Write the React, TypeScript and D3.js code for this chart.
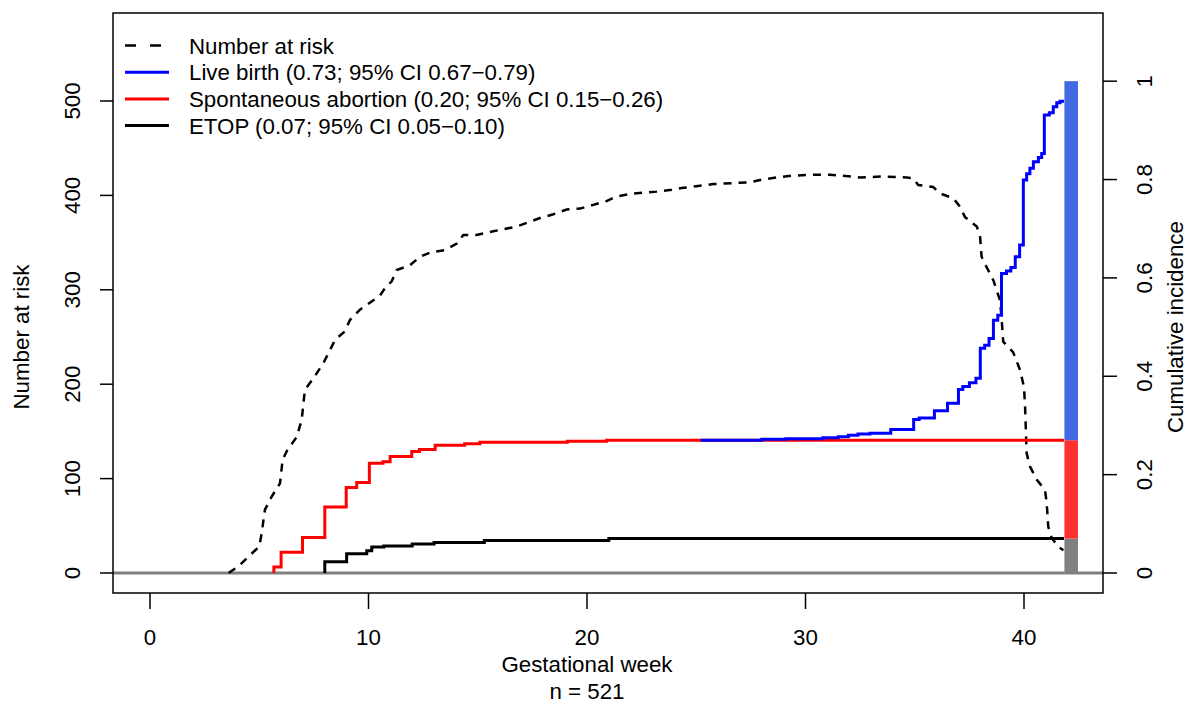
import React from 'react';
import * as d3 from 'd3';

// values
const riskWeeks = [3.6, 3.66, 4.04, 4.58, 5.0, 5.11, 5.26, 5.57, 5.95, 6.07, 6.28, 6.71, 6.94, 7.09, 7.47, 7.93, 8.47, 8.92, 9.15, 9.61, 9.92, 10.53, 10.76, 11.06, 11.29, 11.9, 12.36, 12.89, 13.5, 14.04, 14.34, 14.95, 15.71, 16.78, 17.85, 18.46, 19.07, 19.68, 20.29, 20.9, 21.36, 22.12, 23.19, 23.88, 24.41, 25.09, 25.78, 26.7, 27.46, 28.07, 28.68, 29.44, 30.51, 31.12, 31.58, 32.49, 33.56, 34.63, 34.93, 35.16, 35.84, 36.16, 36.77, 37.07, 37.3, 37.84, 37.99, 38.06, 38.29, 38.6, 38.9, 38.98, 39.05, 39.5, 39.82, 40.0, 40.05, 40.09, 40.12, 40.27, 40.58, 40.96, 41.04, 41.11, 41.27, 41.57, 41.8];
const riskCounts = [0, 1, 7, 19, 28, 42, 67, 81, 95, 120, 130, 144, 162, 194, 206, 222, 247, 256, 268, 279, 284, 294, 302, 309, 321, 326, 335, 340, 342, 349, 358, 358, 362, 367, 376, 380, 385, 386, 390, 394, 399, 402, 404, 406, 408, 410, 412, 413, 414, 417, 419, 421, 422, 422, 421, 419, 420, 419, 418, 411, 409, 402, 397, 388, 377, 367, 356, 335, 324, 310, 289, 268, 245, 234, 215, 197, 176, 148, 127, 113, 99, 88, 74, 49, 37, 28, 24];

// cumulative incidence, stacked: ETOP, + spontaneous abortion, + live birth
const lbWeeks = [25.2, 28.0, 29.1, 30.8, 31.5, 31.96, 32.4, 32.95, 33.9, 34.95, 35.2, 35.9, 36.5, 37.0, 37.2, 37.5, 37.8, 38.0, 38.2, 38.4, 38.6, 38.8, 38.97, 39.2, 39.4, 39.6, 39.8, 39.97, 40.12, 40.27, 40.43, 40.66, 40.81, 40.93, 41.16, 41.34, 41.5, 41.65, 41.83];
const lbCum = [0.27, 0.272, 0.273, 0.275, 0.277, 0.28, 0.2825, 0.284, 0.292, 0.312, 0.315, 0.33, 0.345, 0.373, 0.379, 0.387, 0.396, 0.457, 0.463, 0.477, 0.514, 0.524, 0.609, 0.614, 0.621, 0.643, 0.667, 0.799, 0.812, 0.823, 0.836, 0.845, 0.853, 0.931, 0.936, 0.948, 0.956, 0.959, 0.959];

const saWeeks = [5.67, 5.67, 6.0, 6.98, 8.0, 8.98, 9.46, 10.04, 10.66, 10.99, 11.98, 12.33, 13.05, 14.4, 15.1, 19.1, 20.9, 41.83];
const saCum = [0, 0.012, 0.042, 0.072, 0.134, 0.174, 0.184, 0.223, 0.226, 0.237, 0.247, 0.251, 0.26, 0.263, 0.266, 0.268, 0.27, 0.27];

const etopWeeks = [8.0, 8.0, 9.0, 9.92, 10.15, 10.7, 12.0, 13.0, 15.3, 21.0, 41.83];
const etopCum = [0, 0.023, 0.039, 0.045, 0.053, 0.055, 0.059, 0.062, 0.066, 0.07, 0.07];

// final proportions shown in the stacked bar (bottom to top)
const barNames = ['ETOP', 'Spontaneous abortion', 'Live birth'];
const barShares = [0.07, 0.2, 0.73];
const barColors = ['#808080', '#FF3030', '#4169E1'];

const xTicks = [0, 10, 20, 30, 40];
const leftTicks = [0, 100, 200, 300, 400, 500];
const rightTicks = [0, 0.2, 0.4, 0.6, 0.8, 1];
const rightTickLabels = ['0', '0.2', '0.4', '0.6', '0.8', '1'];

const legendLabels = [
  'Number at risk',
  'Live birth (0.73; 95% CI 0.67\u22120.79)',
  'Spontaneous abortion (0.20; 95% CI 0.15\u22120.26)',
  'ETOP (0.07; 95% CI 0.05\u22120.10)',
];
const legendColors = ['#000000', '#0000FF', '#FF0000', '#000000'];

const N_TOTAL = 521;

const W = 1202;
const H = 705;
const box = { left: 113, right: 1103, top: 13, bottom: 593 };
const FONT = '"Liberation Sans", Arial, Helvetica, sans-serif';
const FS = 22.3;

const x = d3.scaleLinear().domain([0, 40]).range([150, 1024]);
const yL = d3.scaleLinear().domain([0, 500]).range([573, 101]);
const yR = d3.scaleLinear().domain([0, 1]).range([573, yL(N_TOTAL)]);

const zip = (a: number[], b: number[]) => a.map((v, i) => [v, b[i]] as [number, number]);

const riskLine = d3.line<[number, number]>().x(d => x(d[0])).y(d => yL(d[1]));
const stepLine = d3.line<[number, number]>().x(d => x(d[0])).y(d => yR(d[1])).curve(d3.curveStepAfter);

const BAR_W0 = 41.85;
const BAR_W1 = 42.47;

export default function App() {
  const stacked = d3.cumsum(barShares);
  const curves = [
    { pts: zip(etopWeeks, etopCum), color: '#000000' },
    { pts: zip(saWeeks, saCum), color: '#FF0000' },
    { pts: zip(lbWeeks, lbCum), color: '#0000FF' },
  ];

  return (
    <svg width={W} height={H} style={{ position: 'absolute', left: 0, top: 0, background: '#fff' }}
      fontFamily={FONT} fontSize={FS}>
      <rect x={0} y={0} width={W} height={H} fill="#fff" />

      {/* zero reference */}
      <line x1={box.left} x2={box.right} y1={yR(0)} y2={yR(0)} stroke="#808080" strokeWidth={3} />

      {/* number at risk */}
      <path d={riskLine(zip(riskWeeks, riskCounts)) || ''} fill="none" stroke="#000"
        strokeWidth={2.5} strokeDasharray="8,7" />

      {curves.map((c, i) => (
        <path key={i} d={stepLine(c.pts) || ''} fill="none" stroke={c.color} strokeWidth={3} />
      ))}

      {/* stacked bar of final proportions */}
      {barShares.map((s, i) => (
        <rect key={barNames[i]} x={x(BAR_W0)} width={x(BAR_W1) - x(BAR_W0)}
          y={yR(stacked[i])} height={yR(stacked[i] - s) - yR(stacked[i])} fill={barColors[i]} />
      ))}

      {/* box */}
      <rect x={box.left} y={box.top} width={box.right - box.left} height={box.bottom - box.top}
        fill="none" stroke="#000" strokeWidth={1.5} />

      {/* x axis */}
      {xTicks.map(t => (
        <g key={t}>
          <line x1={x(t)} x2={x(t)} y1={box.bottom} y2={box.bottom + 16} stroke="#000" strokeWidth={1.5} />
          <text x={x(t)} y={637} dy="0.36em" textAnchor="middle">{t}</text>
        </g>
      ))}
      <text x={x(20)} y={664} dy="0.36em" textAnchor="middle">Gestational week</text>
      <text x={x(20)} y={691} dy="0.36em" textAnchor="middle">n = {N_TOTAL}</text>

      {/* left axis */}
      {leftTicks.map(t => (
        <g key={t}>
          <line x1={box.left} x2={box.left - 13} y1={yL(t)} y2={yL(t)} stroke="#000" strokeWidth={1.5} />
          <text transform={`translate(72,${yL(t)}) rotate(-90)`} dy="0.36em" textAnchor="middle">{t}</text>
        </g>
      ))}
      <text transform={`translate(21,${yL(250)}) rotate(-90)`} dy="0.36em" textAnchor="middle">Number at risk</text>

      {/* right axis */}
      {rightTicks.map((t, i) => (
        <g key={t}>
          <line x1={box.right} x2={box.right + 14} y1={yR(t)} y2={yR(t)} stroke="#000" strokeWidth={1.5} />
          <text transform={`translate(1144,${yR(t)}) rotate(-90)`} dy="0.36em" textAnchor="middle">{rightTickLabels[i]}</text>
        </g>
      ))}
      <text transform={`translate(1175,${yR(0.5)}) rotate(-90)`} dy="0.36em" textAnchor="middle">Cumulative incidence</text>

      {/* legend */}
      {legendLabels.map((l, i) => {
        const ly = 45.5 + i * 26.7;
        return (
          <g key={l}>
            <line x1={125} x2={169} y1={ly} y2={ly} stroke={legendColors[i]} strokeWidth={i === 0 ? 2.5 : 3}
              strokeDasharray={i === 0 ? '11,14' : undefined} />
            <text x={189} y={ly} dy="0.36em">{l}</text>
          </g>
        );
      })}
    </svg>
  );
}
